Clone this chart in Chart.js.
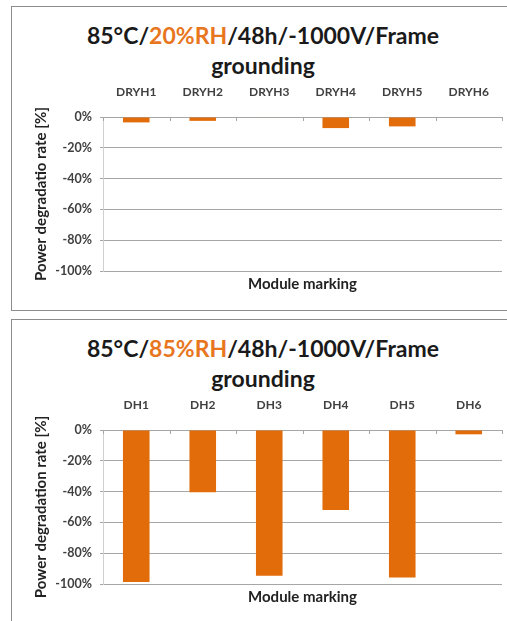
<!DOCTYPE html>
<html>
<head>
<meta charset="utf-8">
<script src="https://cdn.jsdelivr.net/npm/chart.js@4.4.1/dist/chart.umd.min.js"></script>
<style>
    html, body { margin: 0; padding: 0; background: #fff; }
    body { width: 507px; height: 621px; position: relative; overflow: hidden; font-family: Lato, sans-serif; }
    .panel { position: absolute; left: 11px; width: 520px; border: 1.5px solid #8c8c8c; box-sizing: border-box; }
    .title { position: absolute; left: 0; width: 526px; text-align: center; font-weight: bold; font-size: 23px; line-height: 30px; color: #1a1a1a; }
    .title span { color: #E8761E; }
    canvas { position: absolute; left: 0; }
</style>
</head>
<body>
<div class="panel" style="top:6px;height:305px;"></div>
<div class="panel" style="top:319px;height:320px;"></div>
<div class="title" style="top:20px;">85°C/<span>20%RH</span>/48h/-1000V/Frame<br>grounding</div>
<div class="title" style="top:333px;">85°C/<span>85%RH</span>/48h/-1000V/Frame<br>grounding</div>
<canvas id="dryChart" style="top:0px;width:507px;height:310px;"></canvas>
<canvas id="dhChart" style="top:313px;width:507px;height:310px;"></canvas>
<script>
// 85°C / 20%RH
const dryLabels = ['DRYH1', 'DRYH2', 'DRYH3', 'DRYH4', 'DRYH5', 'DRYH6'];
const dryValues = [-3.5, -2.5, -0.3, -7.2, -6.1, 0];

// 85°C / 85%RH
const dhLabels = ['DH1', 'DH2', 'DH3', 'DH4', 'DH5', 'DH6'];
const dhValues = [-98.7, -40.5, -94.6, -52, -95.7, -2.8];

const yMin = -100;
const yMax = 0;
const yStep = 20;

const barColor = '#E36C0A';
const gridColor = '#a6a6a6';
const textColor = '#404040';

// small tick marks below the zero line, between categories (like Excel)
const categoryTicks = {
    id: 'categoryTicks',
    afterDatasetsDraw(chart) {
        const x = chart.scales.x;
        const top = chart.chartArea.top;
        const n = x.ticks.length;
        const half = (x.getPixelForValue(1) - x.getPixelForValue(0)) / 2;
        const c = chart.ctx;
        c.save();
        c.strokeStyle = gridColor;
        c.lineWidth = 1;
        c.beginPath();
        for (let i = 0; i <= n; i++) {
            const px = Math.round(x.getPixelForValue(0) - half + i * half * 2) + 0.5;
            c.moveTo(px, top);
            c.lineTo(px, top + 4);
        }
        c.stroke();
        c.restore();
    }
};

function makeChart(canvasId, labels, values, yTitle) {
    const ctx = document.getElementById(canvasId).getContext('2d');
    return new Chart(ctx, {
        type: 'bar',
        data: {
            labels: labels,
            datasets: [{
                data: values,
                backgroundColor: barColor,
                barPercentage: 0.4,
                categoryPercentage: 1.0,
                xAxisID: 'x',
                yAxisID: 'y'
            }]
        },
        options: {
            responsive: false,
            animation: false,
            layout: {
                padding: { left: 30, right: 5, top: 85, bottom: 13 }
            },
            plugins: {
                legend: { display: false },
                tooltip: { enabled: false }
            },
            scales: {
                x: {
                    type: 'category',
                    position: 'top',
                    grid: { display: false },
                    border: { display: true, color: gridColor },
                    ticks: {
                        color: textColor,
                        padding: 10,
                        font: { family: 'Lato', size: 12, weight: 'bold' }
                    },
                    afterFit: scale => { scale.height = 32; }
                },
                x2: {
                    type: 'category',
                    labels: labels,
                    position: 'bottom',
                    grid: { display: false },
                    border: { display: false },
                    ticks: { display: false },
                    title: {
                        display: true,
                        text: 'Module marking',
                        color: '#222',
                        padding: { top: 2, bottom: 4 },
                        font: { family: 'Lato', size: 15, weight: 'bold' }
                    },
                    afterFit: scale => { scale.height = 26; }
                },
                y: {
                    min: yMin,
                    max: yMax,
                    ticks: {
                        stepSize: yStep,
                        color: textColor,
                        padding: 8,
                        font: { family: 'Lato', size: 12.5, weight: 'bold' },
                        callback: value => value + '%'
                    },
                    grid: { color: gridColor, tickLength: 3 },
                    border: { display: true, color: '#d0d0d0' },
                    title: {
                        display: true,
                        text: yTitle,
                        color: '#222',
                        padding: { top: 2, bottom: 2 },
                        font: { family: 'Lato', size: 15, weight: 'bold' }
                    },
                    afterFit: scale => { scale.width = 73; }
                }
            }
        },
        plugins: [categoryTicks]
    });
}

makeChart('dryChart', dryLabels, dryValues, 'Power degradatio rate [%]');
makeChart('dhChart', dhLabels, dhValues, 'Power degradation rate [%]');
</script>
</body>
</html>
